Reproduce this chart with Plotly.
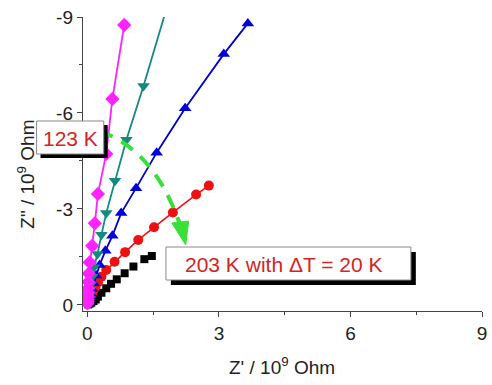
import plotly.graph_objects as go

# ---------------- data (Z' and Z'' in 10^9 Ohm) ----------------
mag_x = [0.84, 0.57, 0.43, 0.24, 0.17, 0.11, 0.05, 0.03, 0.02, 0.015, 0.01, 0.006, 0.004, 0.002, 0.001]
mag_y = [-8.75, -6.44, -4.72, -3.47, -2.55, -1.85, -1.33, -0.98, -0.72, -0.52, -0.37, -0.26, -0.17, -0.10, -0.05]

teal_x = [1.90, 1.28, 0.89, 0.63, 0.43, 0.32, 0.23, 0.15, 0.11, 0.08, 0.06, 0.04, 0.03, 0.02, 0.01, 0.005]
teal_y = [-9.70, -6.84, -5.16, -3.88, -2.87, -2.19, -1.59, -1.18, -0.88, -0.65, -0.48, -0.35, -0.25, -0.17, -0.10, -0.05]

blue_x = [3.66, 3.11, 2.23, 1.58, 1.11, 0.77, 0.57, 0.41, 0.28, 0.20, 0.14, 0.10, 0.07, 0.05, 0.03, 0.02, 0.01]
blue_y = [-8.80, -7.84, -6.15, -4.76, -3.65, -2.87, -2.16, -1.69, -1.25, -0.92, -0.68, -0.50, -0.36, -0.25, -0.17, -0.10, -0.05]

red_x = [2.77, 2.48, 1.95, 1.52, 1.16, 0.86, 0.62, 0.43, 0.32, 0.24, 0.18, 0.13, 0.09, 0.06, 0.04, 0.02, 0.01]
red_y = [-3.73, -3.45, -2.89, -2.43, -2.03, -1.65, -1.35, -1.09, -0.88, -0.70, -0.55, -0.42, -0.31, -0.22, -0.15, -0.09, -0.04]

blk_x = [1.47, 1.30, 1.05, 0.85, 0.67, 0.54, 0.43, 0.32, 0.24, 0.19, 0.14, 0.09, 0.05, 0.02]
blk_y = [-1.53, -1.43, -1.20, -0.99, -0.80, -0.66, -0.52, -0.38, -0.26, -0.17, -0.12, -0.07, -0.04, -0.015]

x_tickvals = [0, 3, 6, 9]
x_ticktext = ["0", "3", "6", "9"]
y_tickvals = [0, -3, -6, -9]
y_ticktext = ["0", "-3", "-6", "-9"]
x_minor = [1.5, 4.5, 7.5]
y_minor = [-1.5, -4.5, -7.5]

label_low = "123 K"
label_high = "203 K with \u0394T = 20 K"

# ---------------- layout geometry (pixels) ----------------
W, H = 492, 385
L, R, T, B = 83, 5, 17, 74
PW, PH = W - L - R, H - T - B


def px(x):
    return (x - L) / PW


def py(y):
    return (H - B - y) / PH


FONT = "Liberation Sans, Arial, sans-serif"
RED_TXT = "#d42424"
GREEN = "#38e038"

fig = go.Figure()

fig.add_trace(go.Scatter(x=blk_x, y=blk_y, mode="markers",
                         marker=dict(symbol="square", size=8, color="black"),
                         showlegend=False))
fig.add_trace(go.Scatter(x=red_x, y=red_y, mode="lines+markers",
                         line=dict(color="#ee1111", width=1.6),
                         marker=dict(symbol="circle", size=10, color="#ee1111"),
                         showlegend=False))
fig.add_trace(go.Scatter(x=blue_x, y=blue_y, mode="lines+markers",
                         line=dict(color="#0000cc", width=1.8),
                         marker=dict(symbol="triangle-up", size=11, color="#0000dd"),
                         showlegend=False))
fig.add_trace(go.Scatter(x=teal_x, y=teal_y, mode="lines+markers",
                         line=dict(color="#138a80", width=1.8),
                         marker=dict(symbol="triangle-down", size=11, color="#138a80"),
                         showlegend=False))
fig.add_trace(go.Scatter(x=mag_x, y=mag_y, mode="lines+markers",
                         line=dict(color="#ff22ff", width=1.8),
                         marker=dict(symbol="diamond", size=11, color="#ff22ff"),
                         showlegend=False))

axis_common = dict(showgrid=False, zeroline=False, showline=True,
                   linecolor="#444", linewidth=1.4, ticks="outside",
                   ticklen=5, tickwidth=1.2, tickcolor="#444",
                   tickfont=dict(family=FONT, size=19, color="#222"),
                   ticklabeloverflow="allow",
                   mirror=False)

fig.update_xaxes(range=[-0.1, 9.0], tickmode="array", tickvals=x_tickvals,
                 ticktext=x_ticktext,
                 minor=dict(tickmode="array", tickvals=x_minor, ticks="outside",
                            ticklen=3, tickcolor="#444", tickwidth=1.2),
                 **axis_common)
fig.update_yaxes(range=[0.19, -9.0], tickmode="array", tickvals=y_tickvals,
                 ticktext=y_ticktext,
                 minor=dict(tickmode="array", tickvals=y_minor, ticks="outside",
                            ticklen=3, tickcolor="#444", tickwidth=1.2),
                 **axis_common)

shapes = []
# curved dashed green arrow
p0 = (100, 131)
c1 = (130, 142)
c2 = (160, 165)
p3 = (181, 224)
path = "M {},{} C {},{} {},{} {},{}".format(px(p0[0]), py(p0[1]), px(c1[0]), py(c1[1]),
                                            px(c2[0]), py(c2[1]), px(p3[0]), py(p3[1]))
shapes.append(dict(type="path", xref="paper", yref="paper", path=path,
                   line=dict(color=GREEN, width=4, dash="14px,10px"), layer="above"))
head = "M {},{} L {},{} L {},{} Z".format(px(173), py(223), px(190), py(221), px(187), py(245))
shapes.append(dict(type="path", xref="paper", yref="paper", path=head,
                   fillcolor=GREEN, line=dict(color=GREEN, width=1), layer="above"))


def add_box(x0, y0, x1, y1, off):
    shapes.append(dict(type="rect", xref="paper", yref="paper",
                       x0=px(x0 + off), x1=px(x1 + off), y0=py(y1 + off), y1=py(y0 + off),
                       fillcolor="black", line=dict(width=0), layer="above"))
    shapes.append(dict(type="rect", xref="paper", yref="paper",
                       x0=px(x0), x1=px(x1), y0=py(y1), y1=py(y0),
                       fillcolor="white", line=dict(color="#8a8a8a", width=1), layer="above"))


add_box(36, 121, 104, 154, 4)
add_box(167, 247, 415, 280, 5)

fig.update_layout(shapes=shapes)

annotations = [
    dict(text=label_low, xref="paper", yref="paper", x=px(70), y=py(138),
         xanchor="center", yanchor="middle", showarrow=False,
         font=dict(family=FONT, size=21, color=RED_TXT)),
    dict(text=label_high, xref="paper", yref="paper", x=px(287), y=py(264),
         xanchor="center", yanchor="middle", showarrow=False,
         font=dict(family=FONT, size=21, color=RED_TXT)),
    dict(text="Z' / 10<sup>9</sup> Ohm", xref="paper", yref="paper", x=px(284), y=py(366),
         xanchor="center", yanchor="middle", showarrow=False,
         font=dict(family=FONT, size=19, color="#222")),
    dict(text="Z\" / 10<sup>9</sup> Ohm", xref="paper", yref="paper", x=px(25), y=py(174),
         xanchor="center", yanchor="middle", showarrow=False, textangle=-90,
         font=dict(family=FONT, size=19, color="#222")),
]

fig.update_layout(
    width=W, height=H,
    margin=dict(l=L, r=R, t=T, b=B, pad=0),
    paper_bgcolor="white", plot_bgcolor="white",
    annotations=annotations,
    showlegend=False,
)

fig.write_html("out.html")
